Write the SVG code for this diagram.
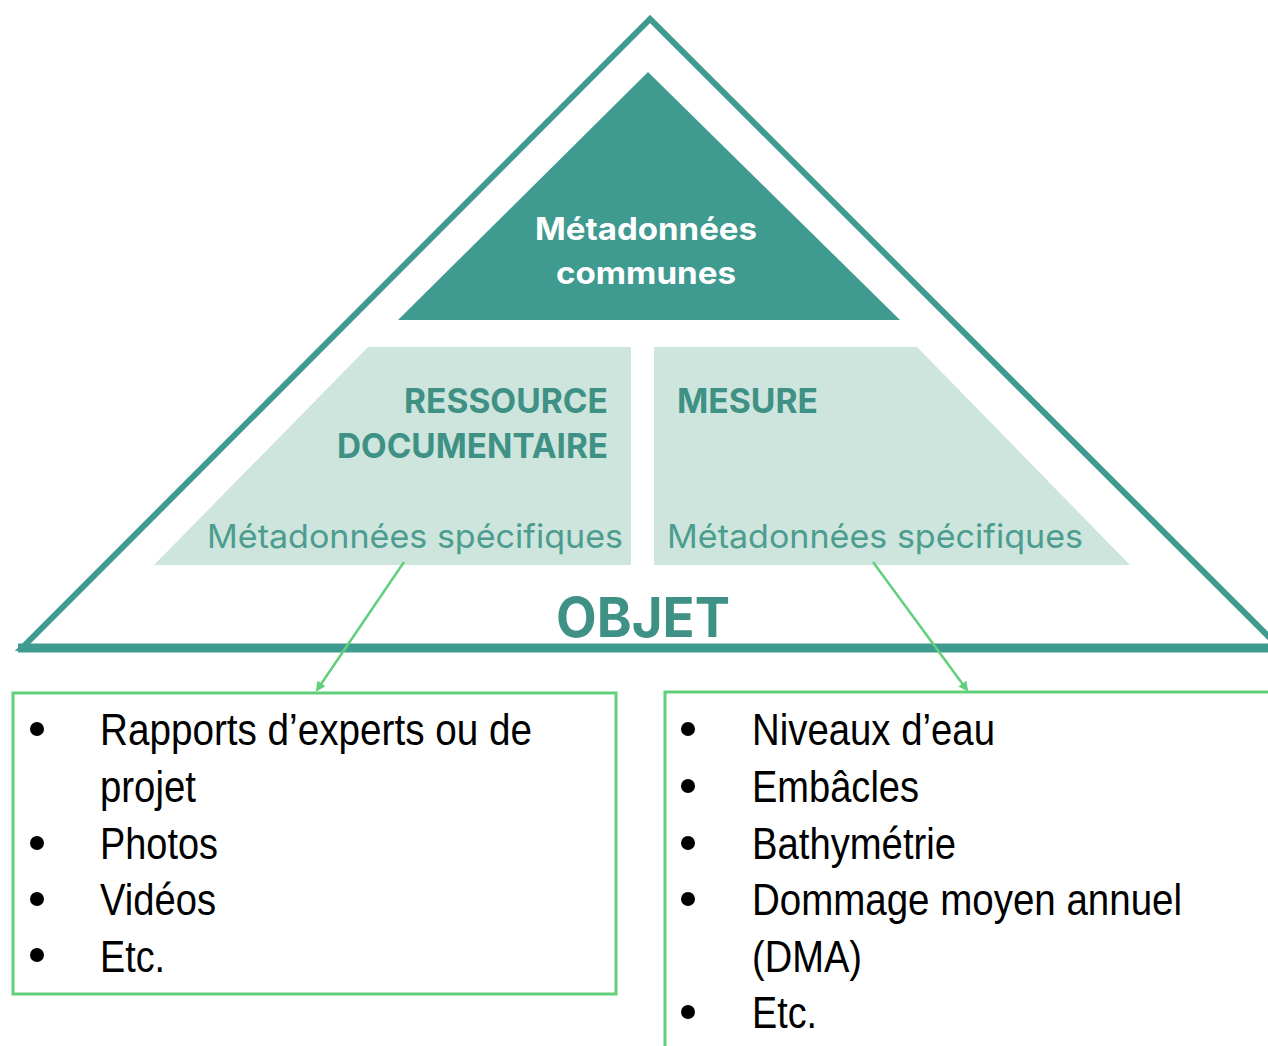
<svg xmlns="http://www.w3.org/2000/svg" width="1268" height="1046" viewBox="0 0 1268 1046">
<style>
.pyr{font-family:Inter,"Open Sans","Liberation Sans",sans-serif}
.hd{font-weight:700;fill:#3e9184;font-size:34px}
.sp{font-weight:400;fill:#4c9d90;font-size:33px}
.lst{font-family:"Liberation Sans Narrow","Liberation Sans",Arial,sans-serif;font-size:44px;fill:#000}
.box{fill:none;stroke:#62d07b;stroke-width:3}
.conn{stroke:#62d07b;stroke-width:2.5;fill:none}
</style>
<defs>
<marker id="ah" markerWidth="10" markerHeight="10" refX="8" refY="5" orient="auto" markerUnits="userSpaceOnUse">
<path d="M0,0 L10,5 L0,10 z" fill="#62d07b"/>
</marker>
</defs>
<rect width="1268" height="1046" fill="#fff"/>
<g id="pyramid" class="pyr">
<polygon points="650,19 22,648 1280,648" fill="#fff" stroke="#3f9a8f" stroke-width="6"/>
<line x1="18" y1="648" x2="1268" y2="648" stroke="#3f9a8f" stroke-width="9"/>
</g>
<g id="communes" class="pyr">
<polygon points="648,72 398,320 900,320" fill="#3f9a8f"/>
<text x="646" y="240" text-anchor="middle" font-weight="700" font-size="31" fill="#fff" textLength="222" lengthAdjust="spacingAndGlyphs">Métadonnées</text>
<text x="646" y="284" text-anchor="middle" font-weight="700" font-size="31" fill="#fff" textLength="180" lengthAdjust="spacingAndGlyphs">communes</text>
</g>
<g id="ressource" class="pyr">
<polygon points="368,347 631,347 631,565 154,565" fill="#cde5dc"/>
<text x="404" y="413" class="hd" textLength="204" lengthAdjust="spacingAndGlyphs">RESSOURCE</text>
<text x="337" y="458" class="hd" textLength="271" lengthAdjust="spacingAndGlyphs">DOCUMENTAIRE</text>
<text x="207" y="548" class="sp" textLength="416" lengthAdjust="spacingAndGlyphs">Métadonnées spécifiques</text>
</g>
<g id="mesure" class="pyr">
<polygon points="654,347 917,347 1130,565 654,565" fill="#cde5dc"/>
<text x="677" y="413" class="hd" textLength="141" lengthAdjust="spacingAndGlyphs">MESURE</text>
<text x="667" y="548" class="sp" textLength="416" lengthAdjust="spacingAndGlyphs">Métadonnées spécifiques</text>
</g>
<g id="objet" class="pyr">
<text x="556" y="637" font-weight="700" font-size="55" fill="#3e9184" textLength="174" lengthAdjust="spacingAndGlyphs">OBJET</text>
</g>
<g id="connectors">
<line class="conn" x1="404" y1="562" x2="317" y2="690" marker-end="url(#ah)"/>
<line class="conn" x1="873" y1="562" x2="967" y2="690" marker-end="url(#ah)"/>
</g>
<g id="box-ressource">
<rect class="box" x="13" y="693" width="603" height="301"/>
<g fill="#000">
<circle cx="37" cy="729" r="7"/>
<circle cx="37" cy="843" r="7"/>
<circle cx="37" cy="899" r="7"/>
<circle cx="37" cy="955" r="7"/>
</g>
<text class="lst" x="100" y="745" textLength="432" lengthAdjust="spacingAndGlyphs">Rapports d’experts ou de</text>
<text class="lst" x="100" y="802" textLength="96" lengthAdjust="spacingAndGlyphs">projet</text>
<text class="lst" x="100" y="859" textLength="118" lengthAdjust="spacingAndGlyphs">Photos</text>
<text class="lst" x="100" y="915" textLength="116" lengthAdjust="spacingAndGlyphs">Vidéos</text>
<text class="lst" x="100" y="972" textLength="65" lengthAdjust="spacingAndGlyphs">Etc.</text>
</g>
<g id="box-mesure">
<path class="box" d="M1270,692 H665 V1048"/>
<g fill="#000">
<circle cx="688" cy="729" r="7"/>
<circle cx="688" cy="786" r="7"/>
<circle cx="688" cy="843" r="7"/>
<circle cx="688" cy="899" r="7"/>
<circle cx="688" cy="1012" r="7"/>
</g>
<text class="lst" x="752" y="745" textLength="243" lengthAdjust="spacingAndGlyphs">Niveaux d’eau</text>
<text class="lst" x="752" y="802" textLength="167" lengthAdjust="spacingAndGlyphs">Embâcles</text>
<text class="lst" x="752" y="859" textLength="204" lengthAdjust="spacingAndGlyphs">Bathymétrie</text>
<text class="lst" x="752" y="915" textLength="430" lengthAdjust="spacingAndGlyphs">Dommage moyen annuel</text>
<text class="lst" x="752" y="972" textLength="110" lengthAdjust="spacingAndGlyphs">(DMA)</text>
<text class="lst" x="752" y="1028" textLength="65" lengthAdjust="spacingAndGlyphs">Etc.</text>
</g>
</svg>
